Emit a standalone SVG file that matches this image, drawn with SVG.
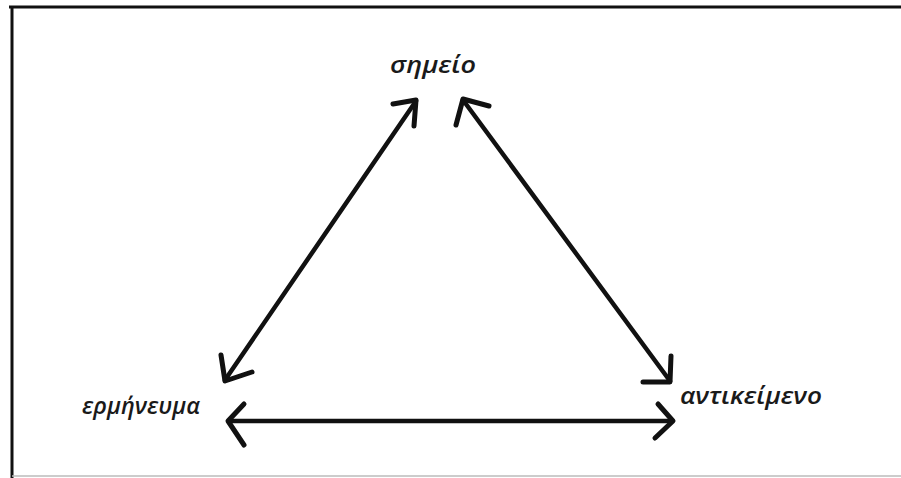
<svg xmlns="http://www.w3.org/2000/svg" width="901" height="478" viewBox="0 0 901 478">
<style>
.lbl{font-family:"Open Sans","Noto Sans","DejaVu Sans",sans-serif;font-style:italic;font-weight:600;font-size:23px;fill:#1a1a1a}
.ln{stroke:#111;stroke-width:4.5;fill:none;stroke-linecap:round;stroke-linejoin:round}
.hd{stroke:#111;stroke-width:5;fill:none;stroke-linecap:round;stroke-linejoin:round}
</style>
<rect width="901" height="478" fill="#fff"/>
<g id="frame">
<path d="M9 7 H901" stroke="#111" stroke-width="3"/>
<path d="M12 6 V478" stroke="#111" stroke-width="3"/>
<path d="M12 476 H901" stroke="#bbb" stroke-width="1.5"/>
</g>
<g id="node-simeio"><text class="lbl" x="433" y="73" text-anchor="middle" textLength="86" lengthAdjust="spacingAndGlyphs">σημείο</text></g>
<g id="node-ermineuma"><text class="lbl" x="82" y="414" textLength="118" lengthAdjust="spacingAndGlyphs">ερμήνευμα</text></g>
<g id="node-antikeimeno"><text class="lbl" x="680" y="404" textLength="142" lengthAdjust="spacingAndGlyphs">αντικείμενο</text></g>
<g id="connectors">
<g id="c1">
<path class="ln" d="M416 101 L225 380"/>
<path class="hd" d="M393 104 L416 100 L414 126"/>
<path class="hd" d="M221 355 L225 381 L252 372"/>
</g>
<g id="c2">
<path class="ln" d="M463 100 L670 381"/>
<path class="hd" d="M489 106 L463 99 L456 125"/>
<path class="hd" d="M671 356 L670 382 L643 382"/>
</g>
<g id="c3">
<path class="ln" d="M229 421 L672 421"/>
<path class="hd" d="M244 404 L228 421 L244 445"/>
<path class="hd" d="M658 404 L673 421 L655 438"/>
</g>
</g>
</svg>
